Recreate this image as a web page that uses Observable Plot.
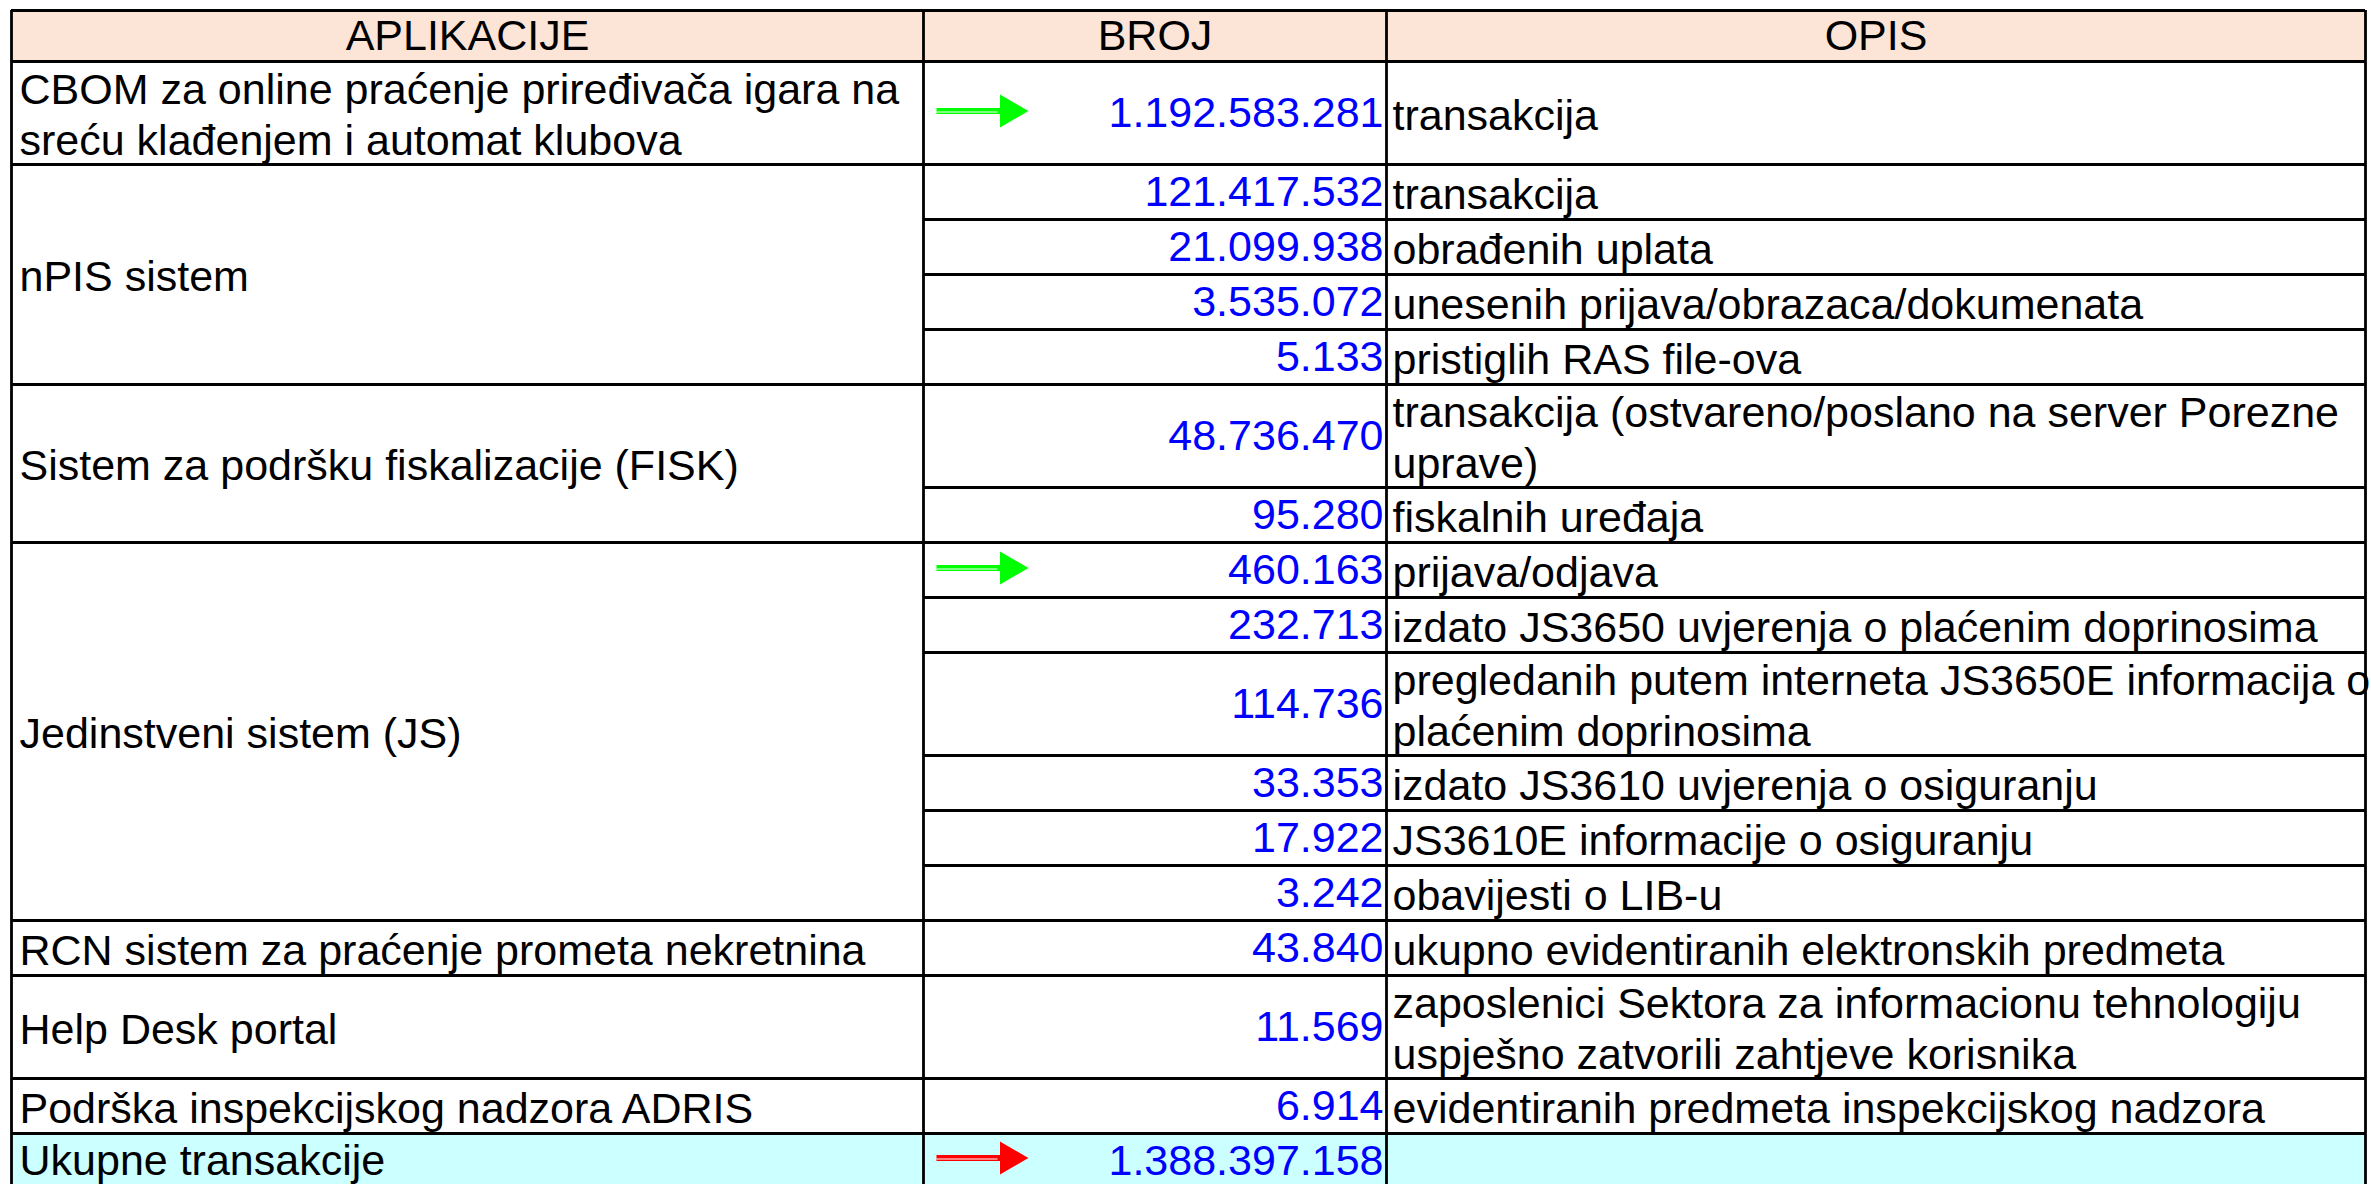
<!DOCTYPE html>
<html>
<head>
<meta charset="utf-8">
<script src="https://cdn.jsdelivr.net/npm/d3@7"></script>
<script src="https://cdn.jsdelivr.net/npm/@observablehq/plot@0.6"></script>
<style>
  html, body { margin: 0; padding: 0; background: #ffffff; }
  #chart svg { display: block; }
</style>
</head>
<body>
<div id="chart"></div>
<script>
// ---------------- DATA ----------------
const columns = ["APLIKACIJE", "BROJ", "OPIS"];

const applications = [
  "CBOM za online praćenje priređivača igara na\nsreću klađenjem i automat klubova",
  "nPIS sistem",
  "Sistem za podršku fiskalizacije (FISK)",
  "Jedinstveni sistem (JS)",
  "RCN sistem za praćenje prometa nekretnina",
  "Help Desk portal",
  "Podrška inspekcijskog nadzora ADRIS"
];

// index into applications for every entry row
const entryApp = [0, 1, 1, 1, 1, 2, 2, 3, 3, 3, 3, 3, 3, 4, 5, 6];

const counts = [
  1192583281,
  121417532, 21099938, 3535072, 5133,
  48736470, 95280,
  460163, 232713, 114736, 33353, 17922, 3242,
  43840,
  11569,
  6914
];

const descriptions = [
  "transakcija",
  "transakcija",
  "obrađenih uplata",
  "unesenih prijava/obrazaca/dokumenata",
  "pristiglih RAS file-ova",
  "transakcija (ostvareno/poslano na server Porezne\nuprave)",
  "fiskalnih uređaja",
  "prijava/odjava",
  "izdato JS3650 uvjerenja o plaćenim doprinosima",
  "pregledanih putem interneta JS3650E informacija o\nplaćenim doprinosima",
  "izdato JS3610 uvjerenja o osiguranju",
  "JS3610E informacije o osiguranju",
  "obavijesti o LIB-u",
  "ukupno evidentiranih elektronskih predmeta",
  "zaposlenici Sektora za informacionu tehnologiju\nuspješno zatvorili zahtjeve korisnika",
  "evidentiranih predmeta inspekcijskog nadzora"
];

// entries marked with a green arrow
const arrowEntries = [0, 7];

const totalLabel = "Ukupne transakcije";
const totalCount = 1388397158;

// ---------------- LAYOUT ----------------
const W = 2371, H = 1184;
const colEdges = [11, 923, 1386, 2365];
const tableTop = 10, headerH = 51, lineStep = 48, rowPad = 7, totalH = 55;
const FONT = 43;
const headerFill = "#fce4d6", totalFill = "#ccffff";
const numColor = "#0000ff";
const gridW = 2.8;

const fmt = d3.formatLocale({decimal: ",", thousands: ".", grouping: [3], currency: ["", ""]}).format(",d");
const nLines = s => s.split("\n").length;

// group sizes
const groupSize = applications.map((_, g) => entryApp.filter(a => a === g).length);

let cursor = tableTop + headerH;
const entries = counts.map((c, i) => {
  const g = entryApp[i];
  const first = i === 0 || entryApp[i - 1] !== g;
  let lines = nLines(descriptions[i]);
  if (groupSize[g] === 1) lines = Math.max(lines, nLines(applications[g]));
  const h = rowPad + lineStep * lines;
  const e = {i, g, first, count: c, desc: descriptions[i], y1: cursor, y2: cursor + h, mid: cursor + h / 2};
  cursor += h;
  return e;
});
const totalTop = cursor;
const totalMid = totalTop + totalH / 2;

const groups = applications.map((name, g) => {
  const es = entries.filter(e => e.g === g);
  const y1 = es[0].y1, y2 = es[es.length - 1].y2;
  return {name, y1, y2, mid: (y1 + y2) / 2};
});

const headerMid = tableTop + headerH / 2;
const colCenters = columns.map((_, i) => (colEdges[i] + colEdges[i + 1]) / 2);

// horizontal grid lines
const hLines = [
  {y: tableTop, x1: colEdges[0]},
  ...entries.map(e => ({y: e.y1, x1: e.first ? colEdges[0] : colEdges[1]})),
  {y: totalTop, x1: colEdges[0]}
];

// arrows
const arrows = [
  ...arrowEntries.map(i => ({y: entries[i].mid - 2, color: "#00ff00"})),
  {y: totalMid - 3, color: "#ff0000"}
];
const shaftX1 = colEdges[1] + 13, shaftX2 = colEdges[1] + 80, headX = colEdges[1] + 86;

const chart = Plot.plot({
  width: W,
  height: H,
  margin: 0,
  style: {fontFamily: "'Liberation Sans', Arial, sans-serif", background: "#ffffff", overflow: "hidden"},
  x: {domain: [0, W], range: [0, W], axis: null},
  y: {domain: [0, H], range: [0, H], axis: null},
  color: {type: "identity"},
  marks: [
    // backgrounds
    Plot.rect([{}], {x1: colEdges[0], x2: colEdges[3], y1: tableTop, y2: tableTop + headerH, fill: headerFill}),
    Plot.rect([{}], {x1: colEdges[0], x2: colEdges[3], y1: totalTop, y2: totalTop + totalH + 20, fill: totalFill}),
    // grid
    Plot.ruleY(hLines, {y: "y", x1: "x1", x2: colEdges[3], stroke: "#000", strokeWidth: gridW}),
    Plot.ruleX(colEdges, {x: d => d, y1: tableTop, y2: H + 10, stroke: "#000", strokeWidth: gridW}),
    // header texts
    Plot.text(columns, {x: (d, i) => colCenters[i], y: headerMid, text: d => d, fontSize: FONT, fill: "#000"}),
    // applications
    Plot.text(groups, {x: colEdges[0] + 8, y: "mid", text: "name", textAnchor: "start", fontSize: FONT, lineHeight: 1.2, fill: "#000"}),
    // counts
    Plot.text(entries, {x: colEdges[2] - 3, y: "mid", text: d => fmt(d.count), textAnchor: "end", fontSize: FONT, fill: numColor}),
    // descriptions
    Plot.text(entries, {x: colEdges[2] + 6, y: "mid", text: "desc", textAnchor: "start", fontSize: FONT, lineHeight: 1.2, fill: "#000"}),
    // total row
    Plot.text([totalLabel], {x: colEdges[0] + 8, y: totalMid, text: d => d, textAnchor: "start", fontSize: FONT, fill: "#000"}),
    Plot.text([totalCount], {x: colEdges[2] - 3, y: totalMid, text: d => fmt(d), textAnchor: "end", fontSize: FONT, fill: numColor}),
    // arrows
    Plot.link(arrows, {x1: shaftX1, x2: shaftX2, y1: "y", y2: "y", stroke: "color", strokeWidth: 6}),
    Plot.link(arrows, {x1: shaftX1, x2: shaftX2 - 6, y1: "y", y2: "y", stroke: "#ffffff", strokeWidth: 1, dy: 1}),
    Plot.dot(arrows, {x: headX, y: "y", symbol: "triangle", r: 12.2, rotate: 90, fill: "color", stroke: "none"})
  ]
});

document.getElementById("chart").appendChild(chart);
</script>
</body>
</html>
